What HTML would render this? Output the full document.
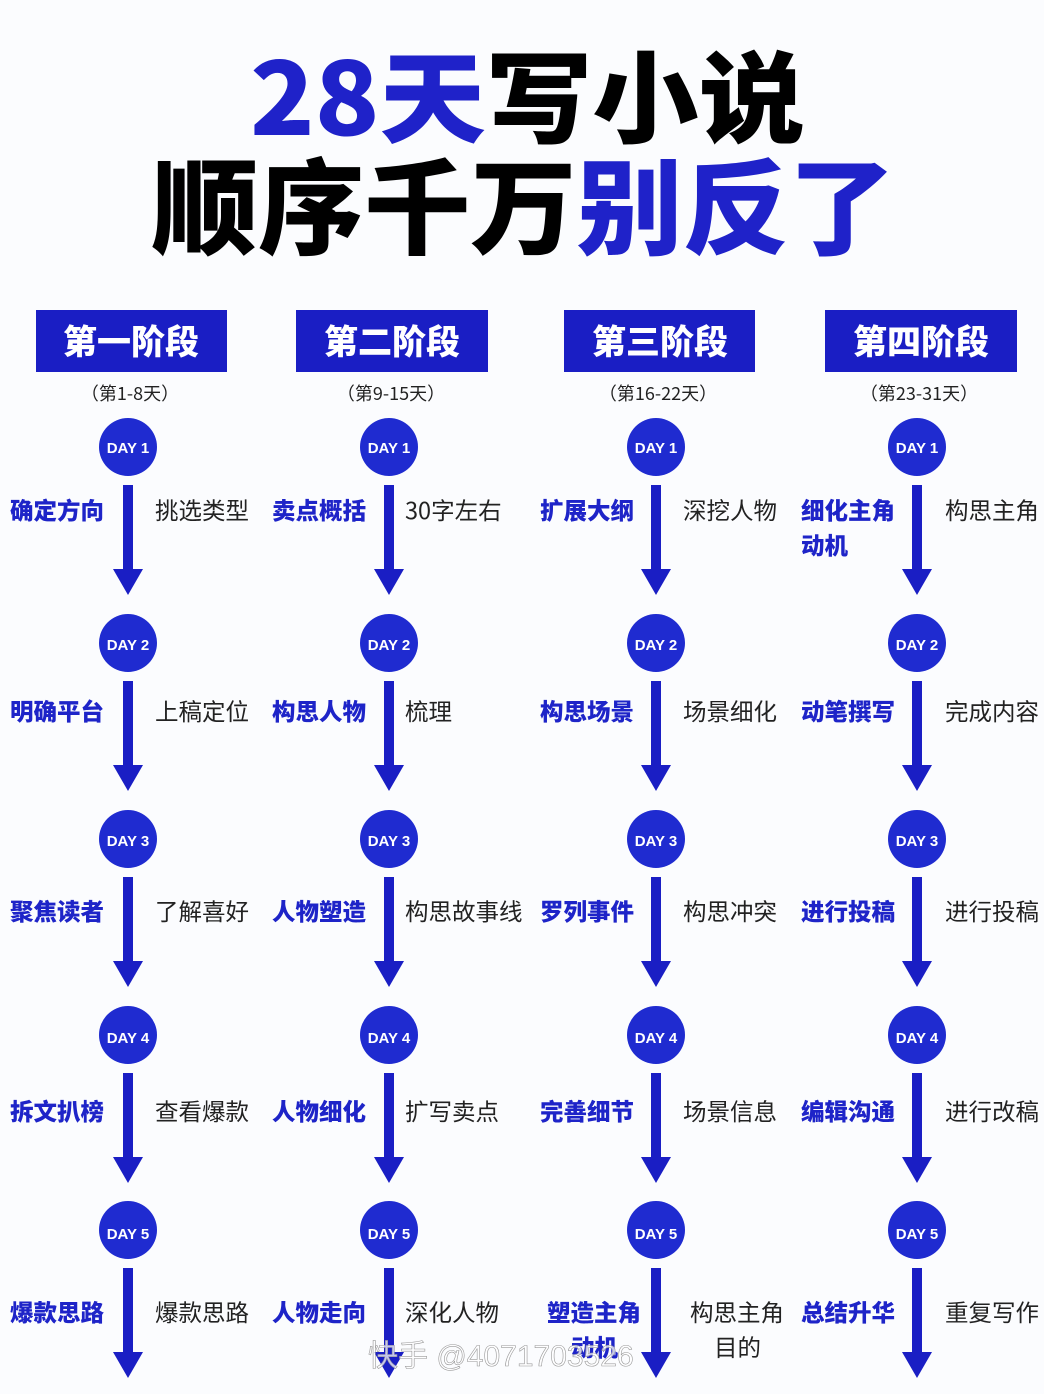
<!DOCTYPE html>
<html><head><meta charset="utf-8"><style>
html,body{margin:0;padding:0;background:#fbfcfe;}
svg{display:block;}
text{font-family:"Liberation Sans","Noto Sans CJK SC",sans-serif;}
.t{font-family:"Noto Sans CJK SC",sans-serif;font-weight:900;}
.h{fill:#fff;font-size:34px;font-weight:900;font-family:"Noto Sans CJK SC",sans-serif;text-anchor:middle;}
.s{fill:#222;font-size:18px;text-anchor:middle;font-family:"Noto Sans CJK SC",sans-serif;}
.d{fill:#fff;font-size:15px;font-weight:700;text-anchor:middle;font-family:"Liberation Sans",sans-serif;}
.l{fill:#1e24c8;font-size:23.5px;font-weight:900;font-family:"Noto Sans CJK SC",sans-serif;}
.r{fill:#222;font-size:23.5px;font-family:"Noto Sans CJK SC",sans-serif;}
</style></head><body>
<svg width="1044" height="1394" viewBox="0 0 1044 1394" xmlns="http://www.w3.org/2000/svg">
<rect width="1044" height="1394" fill="#fbfcfe"/>
<text class="t" x="250" y="135" font-size="100" textLength="555" lengthAdjust="spacingAndGlyphs"><tspan fill="#1f22c9">28天</tspan><tspan fill="#000">写小说</tspan></text>
<text class="t" x="152" y="246" font-size="104" textLength="743" lengthAdjust="spacingAndGlyphs"><tspan fill="#000">顺序千万</tspan><tspan fill="#1f22c9">别反了</tspan></text>

<g fill="#1a1ec4">
<rect x="36" y="310" width="191" height="62"/><rect x="296" y="310" width="192" height="62"/>
<rect x="564" y="310" width="191" height="62"/><rect x="825" y="310" width="192" height="62"/>
</g>
<text class="h" x="131" y="354">第一阶段</text><text class="h" x="392" y="354">第二阶段</text>
<text class="h" x="660" y="354">第三阶段</text><text class="h" x="921" y="354">第四阶段</text>
<text class="s" x="130" y="400">（第1-8天）</text><text class="s" x="391" y="400">（第9-15天）</text>
<text class="s" x="658" y="400">（第16-22天）</text><text class="s" x="919" y="400">（第23-31天）</text>

<defs>
<g id="u">
<circle cx="0" cy="0" r="29" fill="#1f2bd0"/>
<rect x="-5" y="38" width="10" height="86" fill="#1a1ec4"/>
<polygon points="-15,122 15,122 0,148" fill="#1a1ec4"/>
</g>
</defs>
<g>
<use href="#u" x="128" y="447"/><use href="#u" x="128" y="643"/><use href="#u" x="128" y="839"/><use href="#u" x="128" y="1035"/><use href="#u" x="128" y="1230"/>
<use href="#u" x="389" y="447"/><use href="#u" x="389" y="643"/><use href="#u" x="389" y="839"/><use href="#u" x="389" y="1035"/><use href="#u" x="389" y="1230"/>
<use href="#u" x="656" y="447"/><use href="#u" x="656" y="643"/><use href="#u" x="656" y="839"/><use href="#u" x="656" y="1035"/><use href="#u" x="656" y="1230"/>
<use href="#u" x="917" y="447"/><use href="#u" x="917" y="643"/><use href="#u" x="917" y="839"/><use href="#u" x="917" y="1035"/><use href="#u" x="917" y="1230"/>
</g>
<g>
<text class="d" x="128" y="453">DAY 1</text><text class="d" x="389" y="453">DAY 1</text><text class="d" x="656" y="453">DAY 1</text><text class="d" x="917" y="453">DAY 1</text>
<text class="d" x="128" y="650">DAY 2</text><text class="d" x="389" y="650">DAY 2</text><text class="d" x="656" y="650">DAY 2</text><text class="d" x="917" y="650">DAY 2</text>
<text class="d" x="128" y="846">DAY 3</text><text class="d" x="389" y="846">DAY 3</text><text class="d" x="656" y="846">DAY 3</text><text class="d" x="917" y="846">DAY 3</text>
<text class="d" x="128" y="1043">DAY 4</text><text class="d" x="389" y="1043">DAY 4</text><text class="d" x="656" y="1043">DAY 4</text><text class="d" x="917" y="1043">DAY 4</text>
<text class="d" x="128" y="1239">DAY 5</text><text class="d" x="389" y="1239">DAY 5</text><text class="d" x="656" y="1239">DAY 5</text><text class="d" x="917" y="1239">DAY 5</text>
</g>
<g>
<text class="l" x="10" y="519">确定方向</text><text class="r" x="155" y="519">挑选类型</text>
<text class="l" x="272" y="519">卖点概括</text><text class="r" x="405" y="519">30字左右</text>
<text class="l" x="540" y="519">扩展大纲</text><text class="r" x="683" y="519">深挖人物</text>
<text class="l" x="801" y="519">细化主角</text><text class="l" x="801" y="554">动机</text><text class="r" x="945" y="519">构思主角</text>

<text class="l" x="10" y="720">明确平台</text><text class="r" x="155" y="720">上稿定位</text>
<text class="l" x="272" y="720">构思人物</text><text class="r" x="405" y="720">梳理</text>
<text class="l" x="540" y="720">构思场景</text><text class="r" x="683" y="720">场景细化</text>
<text class="l" x="801" y="720">动笔撰写</text><text class="r" x="945" y="720">完成内容</text>

<text class="l" x="10" y="920">聚焦读者</text><text class="r" x="155" y="920">了解喜好</text>
<text class="l" x="272" y="920">人物塑造</text><text class="r" x="405" y="920">构思故事线</text>
<text class="l" x="540" y="920">罗列事件</text><text class="r" x="683" y="920">构思冲突</text>
<text class="l" x="801" y="920">进行投稿</text><text class="r" x="945" y="920">进行投稿</text>

<text class="l" x="10" y="1120">拆文扒榜</text><text class="r" x="155" y="1120">查看爆款</text>
<text class="l" x="272" y="1120">人物细化</text><text class="r" x="405" y="1120">扩写卖点</text>
<text class="l" x="540" y="1120">完善细节</text><text class="r" x="683" y="1120">场景信息</text>
<text class="l" x="801" y="1120">编辑沟通</text><text class="r" x="945" y="1120">进行改稿</text>

<text class="l" x="10" y="1321">爆款思路</text><text class="r" x="155" y="1321">爆款思路</text>
<text class="l" x="272" y="1321">人物走向</text><text class="r" x="405" y="1321">深化人物</text>
<text class="l" x="547" y="1321">塑造主角</text><text class="l" x="571" y="1356">动机</text>
<text class="r" x="690" y="1321">构思主角</text><text class="r" x="714" y="1356">目的</text>
<text class="l" x="801" y="1321">总结升华</text><text class="r" x="945" y="1321">重复写作</text>
</g>
<text x="368" y="1366" font-size="30" fill="#ffffff" fill-opacity="0.75" stroke="#999" stroke-width="0.6" font-family="Noto Sans CJK SC,sans-serif">快手 @4071703526</text>
</svg>
</body></html>
